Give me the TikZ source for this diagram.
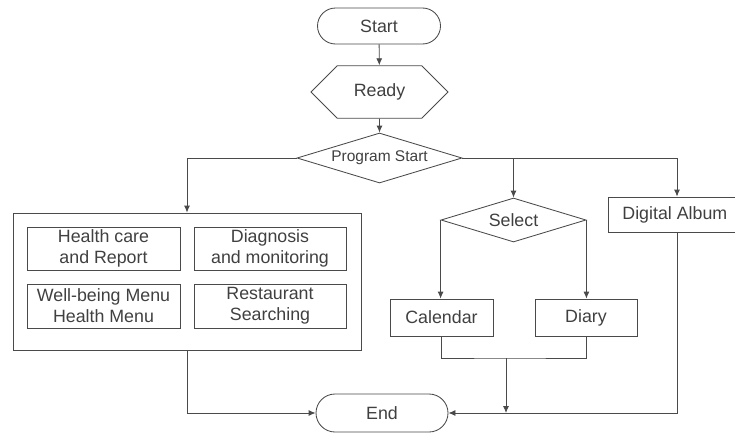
\documentclass[tikz,border=0pt]{standalone}
\usepackage{fontspec}
\setmainfont{Liberation Sans}
\usetikzlibrary{shapes.geometric,shapes.misc,arrows.meta}
\definecolor{ln}{HTML}{4A4A4A}
\definecolor{tx}{HTML}{404040}
\begin{document}
\begin{tikzpicture}[x=1pt,y=-1pt,
  every node/.style={draw=ln,line width=0.85pt,text=tx,font=\fontsize{17.8}{21}\selectfont,inner sep=0pt,align=center},
  term/.style={rounded corners=18pt},
  boxn/.style={rectangle},
  arr/.style={draw=ln,line width=0.85pt,-{Latex[length=7pt,width=6pt]}},
  lin/.style={draw=ln,line width=0.85pt}]
\useasboundingbox (0,0) rectangle (735,434);
\node[term,minimum width=123pt,minimum height=36pt] (start) at (379,26) {Start};
\node[chamfered rectangle,chamfered rectangle xsep=29pt,chamfered rectangle ysep=18pt,minimum width=137pt,minimum height=36pt] (ready) at (379.5,92) {Ready};
\node[diamond,aspect=3.3,minimum width=165pt,minimum height=50pt,font=\fontsize{15.5}{18}\selectfont] (ps) at (379.5,158) {Program Start};
\node[boxn,minimum width=348pt,minimum height=137pt] (big) at (187,281.5) {};
\node[boxn,minimum width=153pt,minimum height=43pt] (hc) at (103.5,248.5) {Health care\\and Report};
\node[boxn,minimum width=152pt,minimum height=43pt] (dm) at (270,248.5) {Diagnosis\\and monitoring};
\node[boxn,minimum width=153pt,minimum height=44pt] (wb) at (103.5,306) {Well-being Menu\\Health Menu};
\node[boxn,minimum width=152pt,minimum height=44pt] (rs) at (270,306) {Restaurant\\Searching};
\node[diamond,aspect=3.3,minimum width=145pt,minimum height=44pt] (sel) at (513.5,220) {Select};
\node[boxn,minimum width=103pt,minimum height=37pt] (cal) at (441.5,317.5) {Calendar};
\node[boxn,minimum width=102pt,minimum height=37pt] (dia) at (586,317.5) {Diary};
\node[boxn,minimum width=138pt,minimum height=35pt] (alb) at (677,214.5) {};
\node[draw=none,anchor=west] (albt) at (622,214.5) {Digital Album};
\node[term,rounded corners=19pt,minimum width=132pt,minimum height=38pt] (end) at (382,413) {End};
\coordinate (join) at (506,358);
\draw[arr] (start) -- (ready);
\draw[arr] (ready) -- (ps);
\draw[arr] (ps.west) -| (big.north);
\draw[arr] (ps.east) -| (alb.north);
\draw[arr] (ps.east -| sel.north) -- (sel.north);
\draw[arr] (sel.west) -- (sel.west |- cal.north);
\draw[arr] (sel.east) -- (sel.east |- dia.north);
\draw[lin] (cal.south) |- (join) -| (dia.south);
\draw[arr] (join) -- (join |- end.east);
\draw[arr] (alb.south) |- (end.east);
\draw[arr] (big.south) |- (end.west);
\end{tikzpicture}
\end{document}
